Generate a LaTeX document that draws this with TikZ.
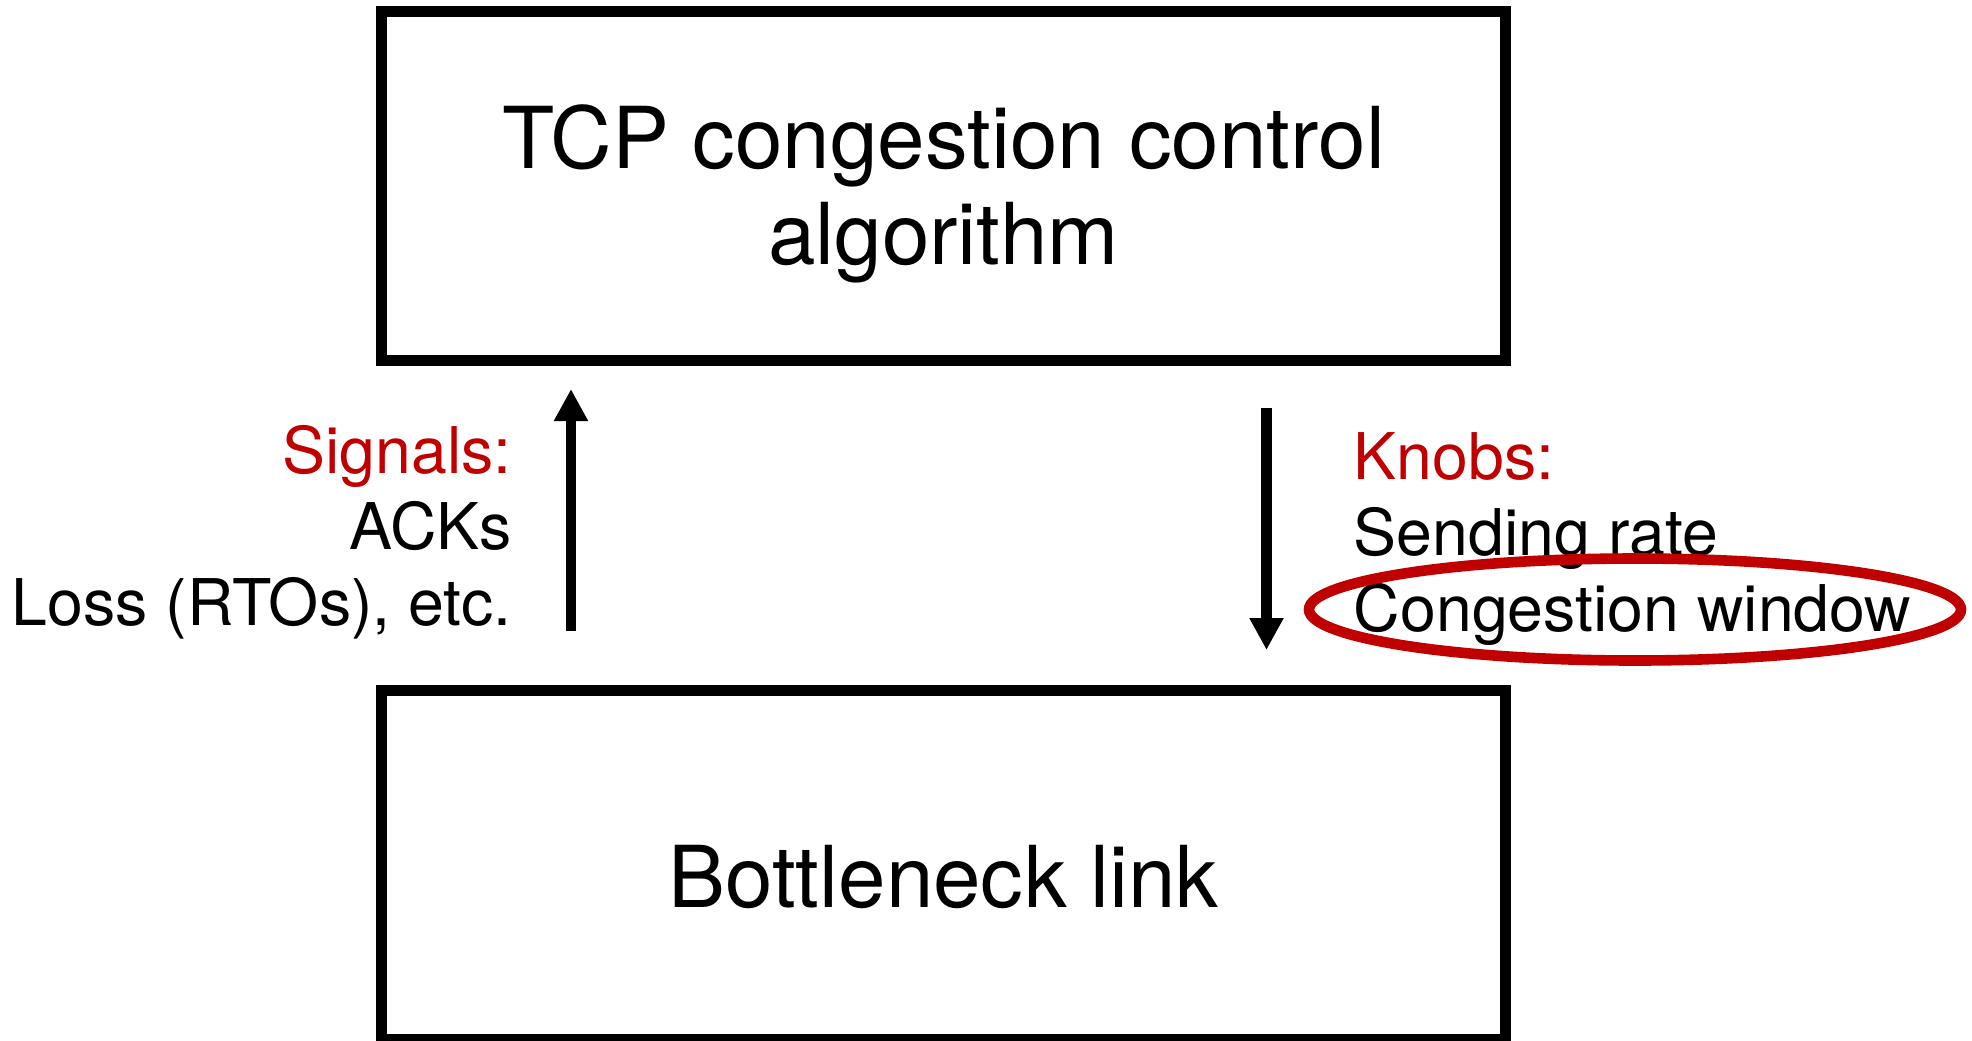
\documentclass[tikz,border=0pt]{standalone}
\usepackage{fontspec}
\setmainfont{TeX Gyre Heros}
\usetikzlibrary{arrows.meta,shapes.geometric}
\definecolor{knobred}{HTML}{C00000}
\begin{document}
\begin{tikzpicture}[x=0.5pt,y=-0.5pt,
  block/.style={draw,line width=5.5pt,minimum width=562pt,minimum height=174.75pt,inner sep=0pt},
  bigtext/.style={font=\fontsize{42.7}{48}\selectfont,inner sep=0pt,align=center},
  sidetext/.style={font=\fontsize{32.2}{38}\selectfont,inner sep=0pt},
  flow/.style={line width=5.3pt,-{Triangle[length=16pt,width=16pt]}},
  highlight/.style={draw=knobred,line width=5.3pt,ellipse,minimum width=326pt,minimum height=51pt,inner sep=0pt}]
  \useasboundingbox[fill=white] (0,0) rectangle (1972,1040);

  % the two blocks
  \node[block] (cc) at (943.5,185.75) {};
  \node[block] (link) at (943.5,865) {};
  % base anchor sits on the last line of a multi-line node
  \node[bigtext,anchor=base] (cctext) at (943.5,264) {TCP congestion control\\algorithm};
  \node[bigtext,anchor=base] (linktext) at (943.5,907) {Bottleneck link};

  % feedback from the link to the algorithm
  \coordinate (sigfrom) at (571,631);
  \coordinate (sigto) at (571,389);
  \draw[flow] (sigfrom) -- (sigto);
  \node[sidetext,anchor=base east,align=right] (signals) at (512,625)
    {\textcolor{knobred}{Signals:}\\ACKs\\Loss (RTOs), etc.};

  % control from the algorithm to the link
  \coordinate (knobfrom) at (1266.5,408);
  \coordinate (knobto) at (1266.5,650);
  \draw[flow] (knobfrom) -- (knobto);
  \node[sidetext,anchor=base west,align=left] (knobs) at (1353.5,631)
    {\textcolor{knobred}{Knobs:}\\Sending rate\\Congestion window};

  % ring around the window knob
  \node[highlight] (ring) at (1635,609.5) {};
\end{tikzpicture}
\end{document}
